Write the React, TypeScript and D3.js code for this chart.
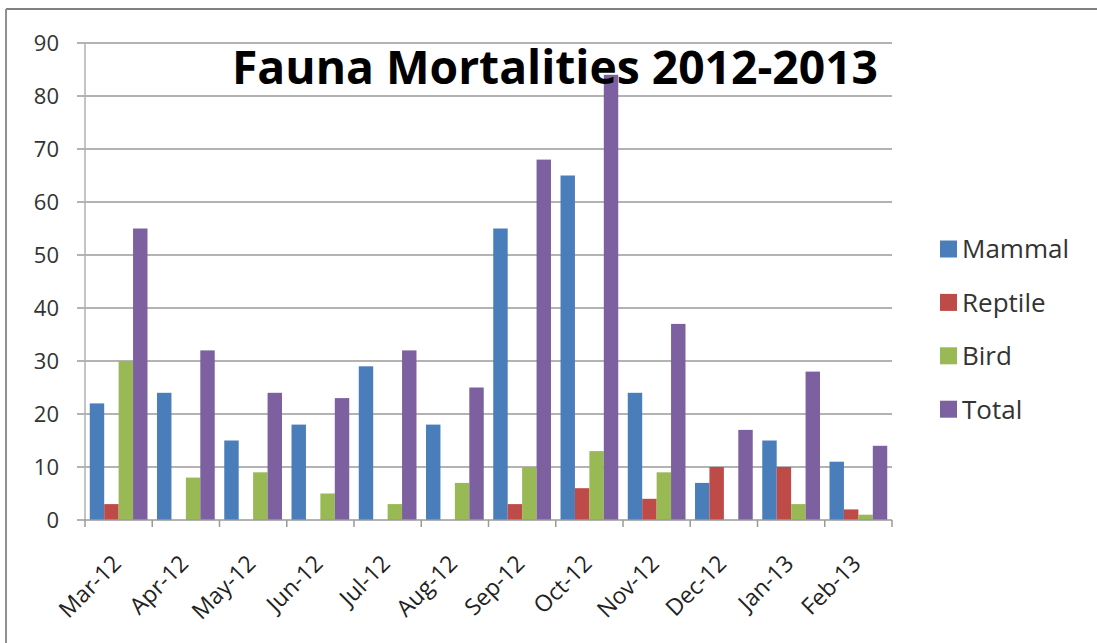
import React from "react";
import * as d3 from "d3";

const categories = ["Mar-12","Apr-12","May-12","Jun-12","Jul-12","Aug-12","Sep-12","Oct-12","Nov-12","Dec-12","Jan-13","Feb-13"];
const seriesNames = ["Mammal","Reptile","Bird","Total"];
const mammal = [22,24,15,18,29,18,55,65,24,7,15,11];
const reptile = [3,0,0,0,0,0,3,6,4,10,10,2];
const bird = [30,8,9,5,3,7,10,13,9,0,3,1];
const total = [55,32,24,23,32,25,68,84,37,17,28,14];
const colors = ["#4A7EBB","#BE4B48","#98B954","#7D60A0"];
const yTicks = [0,10,20,30,40,50,60,70,80,90];

export default function App() {
  const W = 1097, H = 643;
  const left = 85, right = 892, top = 43, bottom = 520;
  const x = d3.scaleBand<string>().domain(categories).range([left, right]).paddingInner(0).paddingOuter(0);
  const y = d3.scaleLinear().domain([0, 90]).range([bottom, top]);
  const inner = d3.scaleBand<string>().domain(seriesNames).range([0, x.bandwidth()]).paddingInner(0).paddingOuter(0.33);
  const values = [mammal, reptile, bird, total];
  const font = "'Open Sans', 'Liberation Sans', sans-serif";
  return (
    <svg width={W} height={H} style={{ position: "absolute", left: 0, top: 0, background: "#fff" }} fontFamily={font}>
      <rect x={0} y={0} width={W} height={H} fill="#fff" />
      <line x1={6} x2={W} y1={9} y2={9} stroke="#808080" strokeWidth={2} />
      <line x1={6} x2={6} y1={9} y2={H} stroke="#909090" strokeWidth={2} />
      {yTicks.map(t => (
        <g key={t}>
          {t > 0 && <line x1={77} x2={right} y1={y(t)} y2={y(t)} stroke="#9a9a9a" strokeWidth={1.5} />}
          <text x={59} y={y(t)} dy="0.36em" textAnchor="end" fontSize={22} fill="#333">{t}</text>
        </g>
      ))}
      <line x1={left} x2={left} y1={top} y2={bottom} stroke="#b0b0b0" strokeWidth={1.5} />
      {categories.map((c, i) => (
        <g key={c}>
          {seriesNames.map((s, j) => {
            const v = values[j][i];
            if (v <= 0) return null;
            return <rect key={s} x={(x(c) as number) + (inner(s) as number)} y={y(v)} width={inner.bandwidth()} height={y(0) - y(v)} fill={colors[j]} />;
          })}
        </g>
      ))}
      <line x1={77} x2={right} y1={bottom} y2={bottom} stroke="#9a9a9a" strokeWidth={1.5} />
      {d3.range(categories.length + 1).map(i => {
        const tx = left + i * x.step();
        return <line key={i} x1={tx} x2={tx} y1={bottom} y2={bottom + 7} stroke="#9a9a9a" strokeWidth={1.5} />;
      })}
      {categories.map(c => {
        const cx = (x(c) as number) + x.bandwidth() / 2 + 4;
        const cy = 565;
        return (
          <text key={c} x={cx} y={cy} textAnchor="end" fontSize={23} fill="#222" transform={`rotate(-45 ${cx} ${cy})`}>{c}</text>
        );
      })}
      <text x={232} y={84} fontSize={46} fontWeight="bold" fill="#000" textLength={646} lengthAdjust="spacingAndGlyphs">Fauna Mortalities 2012-2013</text>
      {seriesNames.map((s, j) => {
        const ly = 249 + j * 53.4;
        return (
          <g key={s}>
            <rect x={940} y={ly - 8.5} width={17} height={17} fill={colors[j]} />
            <text x={962} y={ly} dy="0.36em" fontSize={26} fill="#333">{s}</text>
          </g>
        );
      })}
    </svg>
  );
}
